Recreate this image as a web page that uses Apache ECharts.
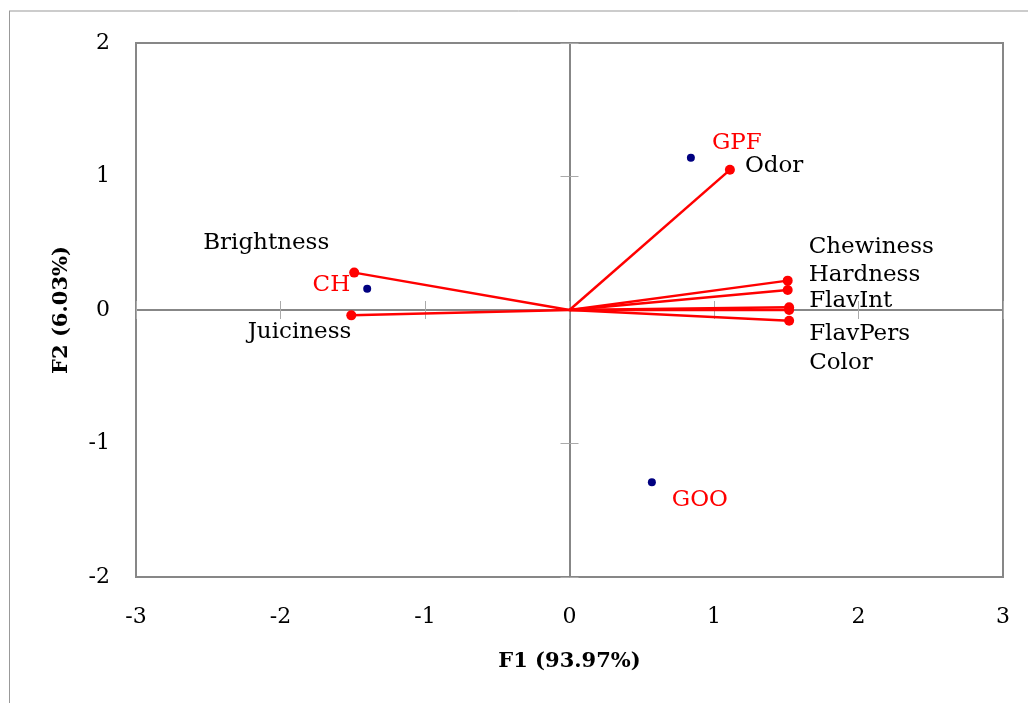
<!DOCTYPE html>
<html>
<head>
<meta charset="utf-8">
<script src="https://cdn.jsdelivr.net/npm/echarts@6/dist/echarts.min.js"></script>
<style>
  html, body { margin: 0; padding: 0; background: #fff; }
  #chart { width: 1028px; height: 703px; }
</style>
</head>
<body>
<div id="chart"></div>
<script>
// variables (red vectors)
var varNames = ['Odor', 'Chewiness', 'Hardness', 'FlavInt', 'FlavPers', 'Color', 'Brightness', 'Juiciness'];
var varF1 = [1.11, 1.51, 1.51, 1.52, 1.52, 1.52, -1.49, -1.51];
var varF2 = [1.05, 0.22, 0.15, 0.02, 0.00, -0.08, 0.28, -0.04];

// observations (blue dots)
var obsNames = ['GPF', 'CH', 'GOO'];
var obsF1 = [0.84, -1.40, 0.57];
var obsF2 = [1.14, 0.16, -1.29];

var xTicks = [-3, -2, -1, 0, 1, 2, 3];
var yTicks = [-2, -1, 0, 1, 2];

// label placement (layout only)
var varLabelPos = ['right', 'right', 'right', 'right', 'right', 'right', 'left', 'left'];
var varLabelOff = [[10, -4], [16, -34], [16, -15], [15, -6], [15, 24], [15, 42], [-20, -30], [5, 17]];
var obsLabelPos = ['right', 'left', 'right'];
var obsLabelOff = [[17, -15], [-13, -4], [16, 18]];

var FONT = 'DejaVu Serif';
var GRAY = '#878787';

function valueAxis(ticks, extra) {
  var a = {
    type: 'value', min: ticks[0], max: ticks[ticks.length - 1], interval: 1,
    splitLine: { show: false },
    axisLine: { show: false },
    axisTick: { show: false },
    axisLabel: { show: false }
  };
  for (var k in extra) a[k] = extra[k];
  return a;
}

var series = [];
varNames.forEach(function (n, i) {
  series.push({
    name: n,
    type: 'line',
    xAxisIndex: 0, yAxisIndex: 0,
    symbol: 'circle', symbolSize: 10,
    itemStyle: { color: '#ff0000', opacity: 1 },
    lineStyle: { color: '#ff0000', width: 2.5 },
    label: { show: false },
    silent: true,
    data: [
      { value: [0, 0], symbol: 'none' },
      {
        value: [varF1[i], varF2[i]],
        label: {
          show: true, formatter: n, position: varLabelPos[i], distance: 0,
          offset: varLabelOff[i], color: '#000', fontFamily: FONT, fontSize: 23
        }
      }
    ]
  });
});

series.push({
  name: 'obs',
  type: 'scatter',
  xAxisIndex: 0, yAxisIndex: 0,
  symbolSize: 8,
  itemStyle: { color: '#000080', opacity: 1 },
  silent: true,
  z: 5,
  data: obsNames.map(function (n, i) {
    return {
      value: [obsF1[i], obsF2[i]],
      label: {
        show: true, formatter: n, position: obsLabelPos[i], distance: 0,
        offset: obsLabelOff[i], color: '#ff0000', fontFamily: FONT, fontSize: 23
      }
    };
  })
});

var chart = echarts.init(document.getElementById('chart'));
chart.setOption({
  animation: false,
  backgroundColor: '#fff',
  graphic: [
    { type: 'line', shape: { x1: 9, y1: 11, x2: 1028, y2: 11 }, style: { stroke: '#999', lineWidth: 1 } },
    { type: 'line', shape: { x1: 9.5, y1: 11, x2: 9.5, y2: 703 }, style: { stroke: '#999', lineWidth: 1 } }
  ],
  grid: {
    left: 136, right: 25, top: 43, bottom: 126,
    show: true, borderColor: GRAY, borderWidth: 2, backgroundColor: 'transparent'
  },
  xAxis: [
    valueAxis(xTicks, {
      position: 'bottom',
      axisLabel: { show: true, margin: 29, color: '#000', fontFamily: FONT, fontSize: 22 },
      name: 'F1 (93.97%)', nameLocation: 'middle', nameGap: 74,
      nameTextStyle: { color: '#000', fontFamily: FONT, fontWeight: 'bold', fontSize: 21 }
    }),
    valueAxis(xTicks, {
      position: 'bottom',
      axisLine: { show: true, onZero: true, onZeroAxisIndex: 0, lineStyle: { color: GRAY, width: 2 } },
      axisTick: { show: true, inside: true, length: 9, lineStyle: { color: '#aaa', width: 1 } }
    }),
    valueAxis(xTicks, {
      position: 'bottom',
      axisLine: { show: false, onZero: true, onZeroAxisIndex: 0 },
      axisTick: { show: true, inside: false, length: 9, lineStyle: { color: '#aaa', width: 1 } }
    })
  ],
  yAxis: [
    valueAxis(yTicks, {
      position: 'left',
      axisLabel: { show: true, margin: 26, color: '#000', fontFamily: FONT, fontSize: 22 },
      name: 'F2 (6.03%)', nameLocation: 'middle', nameGap: 64,
      nameTextStyle: { color: '#000', fontFamily: FONT, fontWeight: 'bold', fontSize: 21 }
    }),
    valueAxis(yTicks, {
      position: 'left',
      axisLine: { show: true, onZero: true, onZeroAxisIndex: 0, lineStyle: { color: GRAY, width: 2 } },
      axisTick: { show: true, inside: true, length: 9, lineStyle: { color: '#aaa', width: 1 } }
    }),
    valueAxis(yTicks, {
      position: 'left',
      axisLine: { show: false, onZero: true, onZeroAxisIndex: 0 },
      axisTick: { show: true, inside: false, length: 9, lineStyle: { color: '#aaa', width: 1 } }
    })
  ],
  series: series
});
</script>
</body>
</html>
